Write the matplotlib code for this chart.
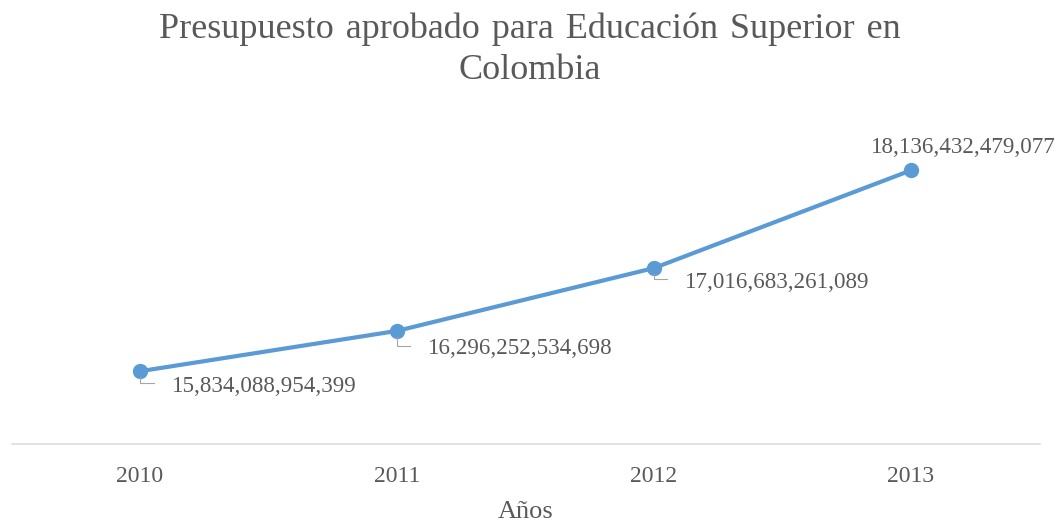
import matplotlib.pyplot as plt

years = ['2010', '2011', '2012', '2013']
presupuesto = [15834088954399, 16296252534698, 17016683261089, 18136432479077]
etiquetas = ['15,834,088,954,399', '16,296,252,534,698', '17,016,683,261,089', '18,136,432,479,077']

gris = '#595959'
azul = '#5b9bd5'
plt.rcParams['font.family'] = ['Liberation Serif', 'DejaVu Serif']

fig = plt.figure(figsize=(10.59, 5.22), dpi=100)
ax = fig.add_axes([11.5 / 1059, 78 / 522, 1028 / 1059, 349 / 522])

x = list(range(len(years)))
ax.plot(x, presupuesto, color=azul, lw=3, marker='o', markersize=10, solid_capstyle='round')
ax.set_xlim(-0.5, 3.5)
ax.set_ylim(15e12, 19e12)

for s in ['top', 'right', 'left']:
    ax.spines[s].set_visible(False)
ax.spines['bottom'].set_color('#d9d9d9')
ax.spines['bottom'].set_linewidth(1.1)
ax.set_yticks([])
ax.set_xticks(x)
ax.set_xticklabels(years)
ax.tick_params(axis='x', length=0, pad=15.5, labelsize=17, labelcolor=gris)
ax.set_xlabel('Años', fontsize=19, color=gris, labelpad=10.5)

# etiquetas de datos (offset en pixeles desde el punto)
offs = [(32, -15), (31, -18), (31, -14), (52, 23)]
for i in range(len(years)):
    dx, dy = offs[i]
    ha = 'left' if i < 3 else 'center'
    ax.annotate(etiquetas[i], xy=(x[i], presupuesto[i]), xytext=(dx, dy),
                textcoords='offset pixels', ha=ha, va='center',
                fontsize=16.6, color=gris, annotation_clip=False)
    if i < 3:
        px, py = ax.transData.transform((x[i], presupuesto[i]))
        ly = py + dy + 3
        fig.add_artist(plt.Line2D([px, px, px + dx - 18], [py - 6, ly, ly],
                                  color='#a6a6a6', lw=0.8, transform=None))

linea1 = ' \u200a'.join('Presupuesto aprobado para Educación Superior en'.split(' '))
fig.text(0.5, 1 - 12 / 522, linea1 + '\nColombia',
         ha='center', va='top', fontsize=26, color=gris, linespacing=1.33)

fig.savefig('out.png', dpi=100)
